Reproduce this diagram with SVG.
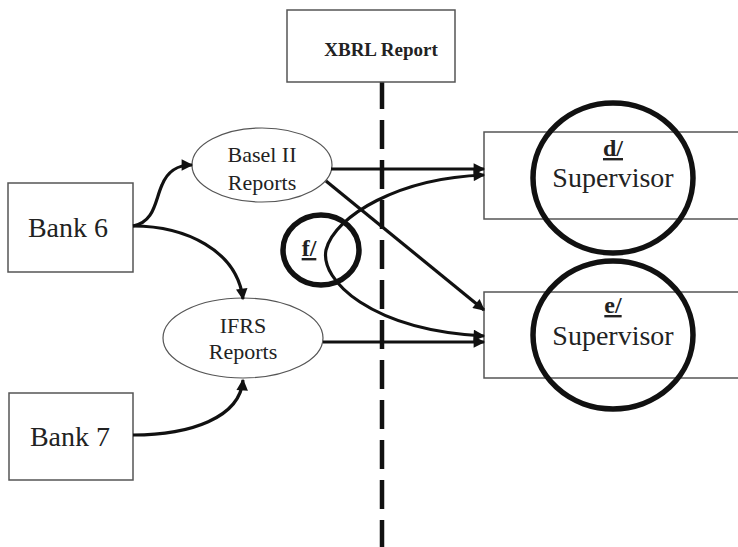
<svg xmlns="http://www.w3.org/2000/svg" width="738" height="547" viewBox="0 0 738 547">
  <style>
    .box { fill: #ffffff; stroke: #555555; stroke-width: 1.5; }
    .oval { fill: #ffffff; stroke: #555555; stroke-width: 1.2; }
    .ring { fill: none; stroke: #111111; stroke-width: 5.5; }
    .label { font-family: "Liberation Serif", "Times New Roman", serif; fill: #222222; text-anchor: middle; }
    .bold { font-weight: bold; }
    .link { fill: none; stroke: #111111; stroke-width: 3.2; }
    .divider { fill: none; stroke: #111111; stroke-width: 4.5; stroke-dasharray: 29 11; }
  </style>
  <defs>
    <marker id="arrow" viewBox="0 0 10 10" refX="9" refY="5" markerWidth="4" markerHeight="3.6" orient="auto" markerUnits="strokeWidth">
      <path d="M0,0 L10,5 L0,10 Z" fill="#111111"/>
    </marker>
    <marker id="arrowStart" viewBox="0 0 10 10" refX="1" refY="5" markerWidth="4" markerHeight="3.6" orient="auto" markerUnits="strokeWidth">
      <path d="M10,0 L0,5 L10,10 Z" fill="#111111"/>
    </marker>
  </defs>
  <rect width="738" height="547" fill="#ffffff"/>

  <!-- dashed reporting boundary -->
  <path class="divider" d="M382,80 L382,547"/>

  <g id="xbrl-report">
    <rect class="box" x="287" y="10" width="168" height="72"/>
    <text class="label bold" x="381" y="56" font-size="19">XBRL Report</text>
  </g>

  <g id="bank-6">
    <rect class="box" x="8" y="183" width="125" height="89"/>
    <text class="label" x="68" y="237" font-size="28">Bank 6</text>
  </g>

  <g id="bank-7">
    <rect class="box" x="9" y="393" width="124" height="87"/>
    <text class="label" x="70" y="446" font-size="28">Bank 7</text>
  </g>

  <g id="basel-ii-reports">
    <ellipse class="oval" cx="262" cy="165" rx="70" ry="37"/>
    <text class="label" x="262" y="162" font-size="22">Basel II</text>
    <text class="label" x="262" y="190" font-size="22">Reports</text>
  </g>

  <g id="ifrs-reports">
    <ellipse class="oval" cx="243" cy="338" rx="80" ry="40"/>
    <text class="label" x="243" y="333" font-size="22">IFRS</text>
    <text class="label" x="243" y="359" font-size="22">Reports</text>
  </g>

  <g id="supervisor-d">
    <rect class="box" x="484" y="132" width="260" height="87"/>
    <ellipse class="ring" cx="613" cy="178" rx="80" ry="75"/>
    <text class="label bold" x="613" y="156" font-size="24" text-decoration="underline">d/</text>
    <text class="label" x="613" y="187" font-size="28">Supervisor</text>
  </g>

  <g id="supervisor-e">
    <rect class="box" x="484" y="292" width="260" height="86"/>
    <ellipse class="ring" cx="613" cy="335" rx="80" ry="74"/>
    <text class="label bold" x="613" y="313" font-size="24" text-decoration="underline">e/</text>
    <text class="label" x="613" y="345" font-size="28">Supervisor</text>
  </g>

  <g id="exchange-f">
    <ellipse class="ring" cx="321" cy="250" rx="38" ry="35"/>
    <text class="label bold" x="309" y="256" font-size="24" text-decoration="underline">f/</text>
  </g>

  <g id="connectors">
    <path class="link" marker-end="url(#arrow)" d="M133,226 C155,222 155,200 162,185 C168,170 178,165 192,165"/>
    <path class="link" marker-end="url(#arrow)" d="M133,226 C185,226 237,250 243,299"/>
    <path class="link" marker-end="url(#arrow)" d="M133,435 C190,435 240,418 243,380"/>
    <path class="link" marker-end="url(#arrow)" d="M331,169 L484,169"/>
    <path class="link" marker-end="url(#arrow)" d="M326,181 L484,310"/>
    <path class="link" marker-end="url(#arrow)" d="M323,342 L484,342"/>
    <path class="link" marker-start="url(#arrowStart)" marker-end="url(#arrow)" d="M484,175 C400,178 335,215 326,250 C320,280 370,330 484,336"/>
  </g>
</svg>
